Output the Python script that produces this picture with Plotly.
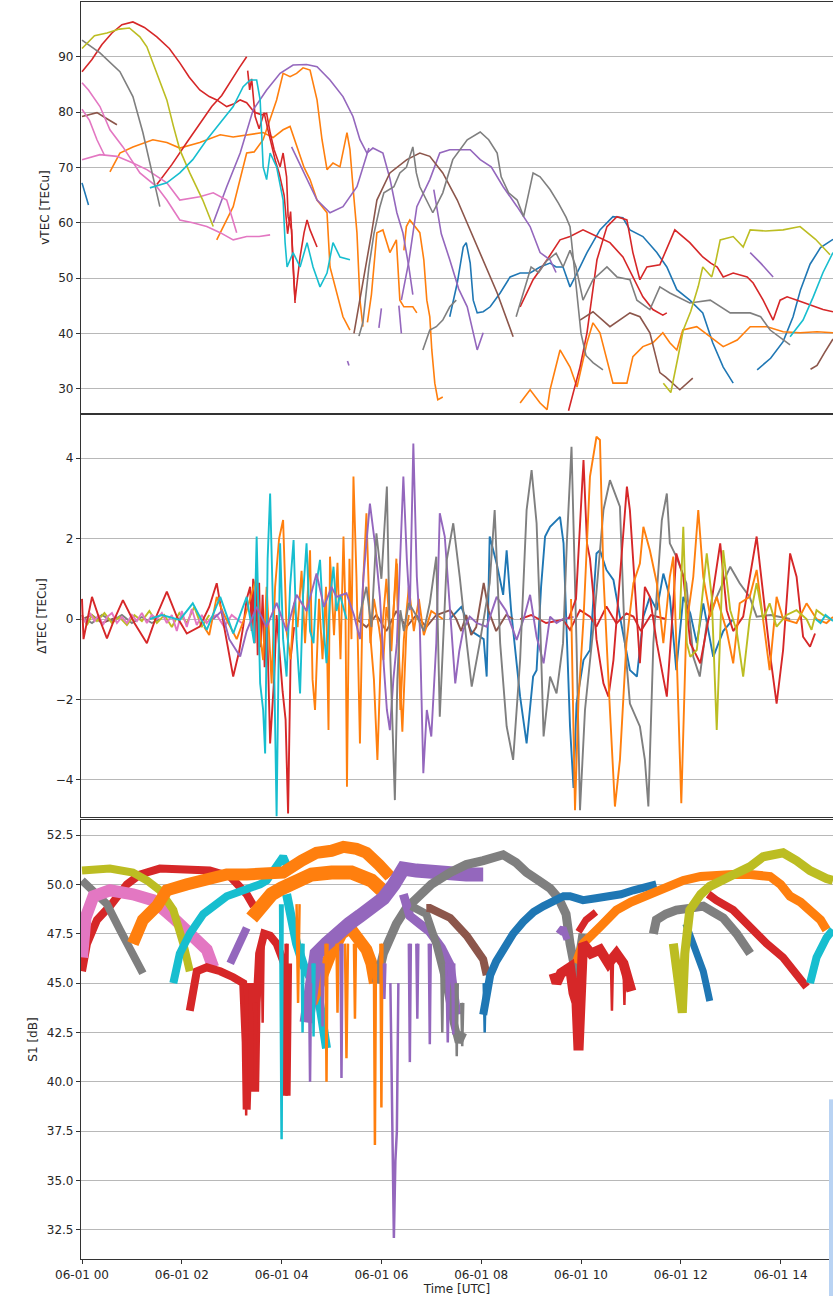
import pandas as pd
import plotly.graph_objects as go
from plotly.subplots import make_subplots

BASE = pd.Timestamp("2024-06-01 00:00")

C_BLUE, C_ORANGE, C_RED, C_PURPLE = "#1f77b4", "#ff7f0e", "#d62728", "#9467bd"
C_BROWN, C_PINK, C_GRAY, C_OLIVE, C_CYAN = "#8c564b", "#e377c2", "#7f7f7f", "#bcbd22", "#17becf"

# ---------------- vTEC [TECu]  (hour, value) ----------------
vt_olive_a = [(0,91.5),(0.25,93.8),(0.5,94.3),(0.75,95.0),(0.95,95.2),(1.16,93.6),(1.3,91.8),(1.42,88.9),(1.56,85.5),(1.7,82.2),(1.83,77.5),(1.96,73.2),(2.16,69.0),(2.3,66.5),(2.42,64.1),(2.63,59.3)]
vt_olive_b = [(11.65,31),(11.8,29.3),(11.95,36),(12.05,40.6),(12.2,44),(12.35,48.5),(12.44,52),(12.55,51),(12.62,50.2),(12.7,53),(12.79,56.9),(13.05,57.5),(13.25,55.6),(13.39,58.7),(13.7,58.5),(14.05,58.7),(14.39,59.3),(14.7,57),(14.99,54.2)]
vt_gray_a = [(0,93),(0.36,90.7),(0.76,87.3),(1.02,82.8),(1.22,76.3),(1.42,68.3),(1.56,62.9)]
vt_gray_b = [(5.55,39.5),(5.63,42),(5.75,52),(5.85,58),(5.97,62.9),(6.05,65.4),(6.25,66.5),(6.37,69),(6.5,70),(6.63,73.7),(6.7,69),(6.77,66.5),(7.03,61.8),(7.23,65.4),(7.43,71.4),(7.72,75),(7.98,76.4),(8.15,75),(8.32,72.6),(8.4,68.3),(8.55,65.4),(8.72,64.1),(8.85,61.1),(9.04,69),(9.18,68.3),(9.38,66),(9.55,63.5),(9.7,61),(9.78,59.3),(9.85,53),(9.92,46),(10.0,40),(10.1,36),(10.24,34.7),(10.44,33.4)]
vt_gray_c = [(6.83,37),(6.97,40.6),(7.1,41.2),(7.23,42.4),(7.37,44.8),(7.5,46)]
vt_gray_d = [(8.7,43),(8.85,47.3),(9.0,52),(9.15,51),(9.3,53),(9.5,54.5),(9.64,52),(9.78,55),(9.9,52),(10.04,46),(10.24,49.7),(10.52,52),(10.72,50.2),(10.98,49.7),(11.12,46),(11.38,44.3),(11.58,48.4),(11.78,47.3),(12.18,45.5),(12.59,46),(12.99,43.7),(13.39,43.7),(13.6,43),(13.79,40.6),(14.19,37.9)]
vt_pink_a = [(0,85.3),(0.13,84),(0.36,81),(0.56,76.8),(0.82,73.7),(1.16,69),(1.5,66.5),(1.7,64.1),(1.96,60.5),(2.22,60),(2.5,59.3),(2.77,58.2),(3.03,56.9),(3.3,57.5),(3.55,57.5),(3.77,57.8)]
vt_pink_b = [(0,71.4),(0.36,72.3),(0.7,72),(1.02,70.8),(1.3,69.6),(1.7,67.2),(1.96,64.1),(2.36,64.7),(2.63,65.4),(2.9,64.1),(3.1,58.2)]
vt_pink_c = [(0,80.5),(0.15,78.5),(0.3,75),(0.45,72.2)]
vt_brown_a = [(0,79.2),(0.3,79.9),(0.5,78.8),(0.7,77.7)]
vt_brown_b = [(5.45,40),(5.55,45),(5.65,50),(5.8,58),(5.91,64.1),(6.17,69),(6.51,71.4),(6.77,72.6),(6.97,72),(7.23,69),(7.52,64.1),(7.78,58.7),(8.04,53.3),(8.32,47.3),(8.64,39.4)]
vt_brown_c = [(9.98,42.4),(10.24,43.9),(10.58,41.2),(10.98,43.7),(11.18,43),(11.38,40.1),(11.58,32.9),(11.7,32.1),(11.98,29.8),(12.24,31.9)]
vt_brown_d = [(14.6,33.5),(14.73,34.2),(14.88,36.5),(15.05,39)]
vt_orange_a = [(0.56,69.2),(0.76,72.6),(1.02,73.7),(1.42,75),(1.7,74.5),(1.96,73.5),(2.36,74.5),(2.77,75.9),(3.03,75.5),(3.3,75.9),(3.63,76.3),(3.83,75.4),(4.03,76.8),(4.17,77.4),(4.3,74),(4.45,70),(4.57,67.8),(4.71,64.1),(4.85,62.5),(4.91,61.8),(4.97,52),(5.11,47.3),(5.23,43),(5.37,40.6)]
vt_orange_b = [(2.7,56.9),(3.03,62.9),(3.3,72.6),(3.45,72.8),(3.63,75),(3.9,82.2),(4.03,87),(4.17,86.4),(4.3,87),(4.43,88),(4.57,87.6),(4.71,82.2),(4.81,75),(4.91,69.6),(5.03,70.8),(5.17,70.1),(5.31,76.3),(5.37,73.2),(5.43,66.5),(5.51,58.2),(5.57,46),(5.63,41.2)]
vt_orange_c = [(5.72,42),(5.8,47),(5.91,58.2),(6.03,58.7),(6.17,54.6),(6.3,56.9),(6.37,46),(6.45,44.8),(6.63,44.8),(6.71,43.7)]
vt_orange_d = [(6.45,55),(6.5,59.3),(6.57,60.5),(6.77,58.2),(6.85,53.3),(6.91,46),(6.97,43),(7.01,37),(7.07,31),(7.13,28),(7.23,28.5)]
vt_orange_e = [(8.78,27.4),(8.98,29.8),(9.18,27.4),(9.32,26.2),(9.38,29.8),(9.58,37),(9.78,33.9),(9.92,30.3),(10.12,38.3),(10.24,41.9),(10.38,40.1),(10.52,35.2),(10.64,31),(10.92,31),(11.04,35.8),(11.24,37.6),(11.44,38.3),(11.64,40.1),(11.78,38.3),(11.92,37),(12.04,40.6),(12.32,41.2),(12.59,39.4),(12.85,37.6),(13.13,38.8),(13.39,41.2),(13.73,41.2),(14.05,40.3),(14.39,40.1),(14.73,40.3),(15.05,40.1)]
vt_cyan_a = [(1.36,66.3),(1.7,67.2),(1.96,69),(2.22,71.4),(2.5,75),(2.77,78),(3.03,81),(3.23,84.6),(3.37,85.8),(3.5,85.8),(3.57,82.2),(3.63,70.1),(3.7,67.8),(3.77,72.6),(3.9,70.1),(4.03,64.1),(4.07,56.4),(4.11,52),(4.23,54.6),(4.37,52),(4.51,56.4),(4.63,52),(4.77,48.4),(4.91,50.9),(5.03,56.4),(5.17,53.8),(5.37,53.3)]
vt_cyan_b = [(14.19,39.4),(14.45,42.4),(14.65,46.5),(14.85,51),(15.05,54.6)]
vt_purple_a = [(2.63,60),(2.9,66.5),(3.17,72.6),(3.43,80.4),(3.7,84),(3.97,87),(4.23,88.5),(4.5,88.6),(4.71,88.2),(4.97,85.8),(5.23,82.8),(5.43,79.2),(5.57,75),(5.71,72.6),(5.83,73.5),(6.03,72.6),(6.17,68),(6.31,61.8),(6.43,58.2),(6.55,52),(6.63,47)]
vt_purple_b = [(4.2,73.7),(4.45,69),(4.71,64.1),(4.97,61.8),(5.23,62.9),(5.51,66.5),(5.65,70.8),(5.75,73.5)]
vt_purple_c = [(6.4,46),(6.55,53),(6.71,62.9),(6.97,67.8),(7.17,72.6),(7.37,73.2),(7.78,73.2),(7.98,71.4),(8.2,70.1),(8.44,66.5),(8.72,62.9),(8.98,59.3),(9.18,54.6),(9.38,53.3),(9.5,51)]
vt_purple_d = [(7.05,66),(7.2,58),(7.37,53.3),(7.55,48),(7.72,44.8),(7.92,37),(8.04,40.1)]
vt_purple_e = [(13.39,54.6),(13.6,52.7),(13.85,50.2)]
vt_purple_f = [(5.32,35),(5.35,34.2),None,(5.95,41),(6.0,44.5),None,(6.35,45),(6.4,40)]
vt_blue_a = [(0,67.2),(0.13,63.2)]
vt_blue_b = [(7.37,43),(7.52,49.1),(7.64,55.6),(7.7,56.4),(7.78,52.7),(7.84,46),(7.92,43.7),(8.04,43.9),(8.18,44.8),(8.38,47.3),(8.58,50.2),(8.78,50.9),(8.98,50.9),(9.18,52),(9.38,52.7),(9.5,52),(9.64,52),(9.78,48.4),(9.92,50.9),(10.12,54.6),(10.38,58.7),(10.64,61.1),(10.84,60.9),(10.98,58.7),(11.24,57.5),(11.52,54.6),(11.72,52),(11.92,47.9),(12.18,46),(12.44,43.7),(12.64,38.3),(12.85,33.9),(13.05,31)]
vt_blue_c = [(13.53,33.4),(13.8,35.5),(14.05,38.5),(14.25,43),(14.4,47.9),(14.59,52.5),(14.8,55.5),(15.05,57)]
vt_red_a = [(0,87.3),(0.2,89.5),(0.4,92.2),(0.6,94.3),(0.8,95.8),(1.02,96.3),(1.25,95.3),(1.5,93.6),(1.75,91.5),(1.96,88.9),(2.15,86.3),(2.36,84),(2.55,82.8),(2.7,82.2),(2.9,81),(3.05,81.5),(3.17,82.2),(3.3,81.7),(3.45,80),(3.6,79.5),(3.7,79.8),(3.77,76.3),(3.85,73.2),(3.97,70.1),(4.03,72.6),(4.1,68.3),(4.13,61.1),(4.2,58.7),(4.23,52),(4.27,46),(4.3,48.4),(4.37,53.8),(4.45,58.2),(4.51,60.5),(4.57,58.7),(4.71,55.6)]
vt_red_b = [(1.5,66.9),(1.8,70.5),(2.1,74.5),(2.4,78.5),(2.6,81),(2.8,83),(3.0,86),(3.15,88),(3.3,90)]
vt_red_c = [(3.32,87.5),(3.36,84),(3.4,86),(3.47,79.2),(3.55,77),(3.65,79.9),(3.72,77),(3.8,74),(3.88,71),(3.95,69),(4.05,65),(4.12,58),(4.18,62),(4.22,55),(4.27,45.5)]
vt_red_d = [(8.78,44.8),(9.04,49.7),(9.32,53.3),(9.58,56.9),(9.78,57.5),(10.04,58.7),(10.32,57.5),(10.58,56.4),(10.84,53.8),(11.04,50.2),(11.24,46.6),(11.44,44.3),(11.64,43.3),(11.72,43.7)]
vt_red_e = [(9.75,26),(9.98,33.9),(10.12,40.1),(10.32,53.3),(10.52,59.3),(10.72,61.1),(10.92,60.5),(11.04,54.6),(11.18,49.7),(11.32,52),(11.58,52.4),(11.7,55),(11.88,58.7),(12.18,56.4),(12.44,53.8),(12.6,52.7),(12.73,52),(12.85,50.2),(13.05,50.9),(13.33,50.2),(13.45,49.1),(13.65,46),(13.85,42.4),(13.99,46),(14.13,46.6),(14.33,46),(14.59,45.2),(14.85,44.3),(15.05,43.9)]

# ---------------- dTEC [TECu] ----------------
dt_red_a = [(0,0.5),(0.03,-0.5),(0.2,0.55),(0.35,0.0),(0.5,-0.48),(0.65,0.0),(0.82,0.47),(1.05,-0.1),(1.3,-0.6),(1.5,0.1),(1.7,0.68),(1.9,0.06),(2.1,-0.36),(2.36,-0.19),(2.55,0.3),(2.7,0.89),(2.85,-0.2),(3.03,-1.43),(3.15,-0.8),(3.23,-0.19),(3.3,0.5),(3.37,0.8),(3.4,-0.3),(3.43,1.0),(3.46,-0.6),(3.49,1.2),(3.52,-0.9),(3.55,0.9),(3.58,-0.7),(3.62,0.6),(3.66,-1.2),(3.7,0.3),(3.77,-3.09),(3.85,-1.5),(3.9,0.1),(3.95,-0.8),(4.02,-1.8),(4.08,-2.5),(4.13,-4.83),(4.18,-1.0),(4.25,-0.2)]
dt_olive_a = [(0,0.1),(0.1,-0.15),(0.2,0.1),(0.3,-0.05),(0.45,0.15),(0.6,-0.1),(0.75,0.05),(0.9,-0.15),(1.05,0.1),(1.2,-0.05),(1.35,0.2),(1.5,-0.1),(1.65,0.1),(1.8,-0.2),(1.95,0.15),(2.1,-0.1),(2.25,0.3),(2.4,-0.2),(2.55,0.1)]
dt_pink_a = [(0,0.1),(0.08,-0.1),(0.16,0.15),(0.25,-0.05),(0.33,0.1),(0.42,-0.15),(0.5,0.05),(0.6,0.15),(0.7,-0.1),(0.8,0.05),(0.9,-0.1),(1.0,0.1),(1.1,-0.05),(1.2,0.15),(1.3,-0.1),(1.4,0.1),(1.5,0.0),(1.6,0.15),(1.7,-0.1),(1.8,0.1),(1.9,-0.3),(2.0,0.2),(2.1,-0.2),(2.2,0.25),(2.3,-0.15),(2.4,0.1),(2.5,-0.1),(2.6,0.05),(2.7,0.1),(2.85,-0.2),(3.0,0.1),(3.2,-0.1)]
dt_gray_a = [(0,0.05),(0.2,-0.1),(0.4,0.1),(0.6,-0.05),(0.8,0.1),(1.0,-0.1),(1.2,0.05),(1.4,-0.1),(1.56,0.0)]
dt_brown_a = [(0,0.0),(0.2,0.1),(0.4,-0.1),(0.7,0.05)]
dt_cyan_a = [(1.36,0.0),(1.6,0.1),(1.96,-0.02),(2.22,0.39),(2.5,-0.27),(2.77,0.55),(3.03,-0.36),(3.3,0.55),(3.45,-0.6),(3.5,2.05),(3.57,-1.6),(3.63,-2.26),(3.67,-3.34),(3.72,1.5),(3.77,3.12),(3.84,-0.36),(3.9,-4.9),(3.97,1.88),(4.03,-0.5),(4.1,-1.43),(4.17,0.8),(4.24,1.96),(4.3,-0.5),(4.37,-1.85),(4.43,0.6),(4.5,1.88),(4.57,-0.3),(4.64,-0.6),(4.7,0.9),(4.77,1.47),(4.84,-0.2),(4.9,-1.1),(4.97,0.5),(5.04,1.3),(5.1,0.2),(5.17,0.6),(5.3,0.0)]
dt_cyan_b = [(14.7,0.0),(14.8,-0.1),(14.9,0.1),(15.05,-0.05)]
dt_orange_a = [(2.45,-0.2),(2.55,-0.4),(2.7,0.55),(2.85,0.1),(2.97,-0.19),(3.1,-0.5),(3.25,0.0),(3.4,0.6),(3.5,1.05),(3.58,-0.5),(3.63,-1.02),(3.7,0.8),(3.8,-1.6),(3.87,0.8),(3.95,2.0),(4.03,2.46),(4.1,-0.3),(4.18,-1.0),(4.25,0.4),(4.32,-0.2),(4.4,1.2),(4.47,-0.6),(4.57,1.71),(4.62,-1.5),(4.67,-2.26),(4.75,0.5),(4.82,-1.0),(4.89,0.8),(4.94,-2.76),(4.97,1.55),(5.05,-0.4),(5.12,1.4),(5.18,-1.0),(5.24,2.05),(5.28,0.2),(5.31,-4.17),(5.36,1.5),(5.4,-0.5),(5.44,3.54),(5.5,1.05),(5.57,-3.09),(5.63,0.8),(5.7,2.63),(5.78,-0.6),(5.85,0.5),(5.95,-0.2),(6.04,-1.02),(6.1,0.3),(6.2,-0.5),(6.31,1.38),(6.36,-1.2),(6.42,-2.8),(6.5,-0.3),(6.55,0.1)]
dt_orange_c = [(5.75,0.0),(5.85,-1.5),(5.92,-3.5),(6.0,-0.5),(6.1,1.0),(6.2,-0.8),(6.3,1.5),(6.38,-2.26),(6.45,-0.5),(6.55,0.8),(6.65,-0.3),(6.75,0.5),(6.85,-0.4),(7.0,0.2),(7.23,0.0)]
dt_orange_b = [(9.8,0.5),(9.85,-3.09),(9.88,-4.75),(9.95,-2.0),(10.05,0.0),(10.18,3.54),(10.31,4.53),(10.38,4.45),(10.45,1.05),(10.58,-2.26),(10.68,-4.66),(10.78,-3.5),(10.91,-0.6),(11.05,0.89),(11.18,1.38),(11.25,2.29),(11.38,1.71),(11.52,0.89),(11.65,-0.6),(11.78,1.05),(11.85,1.55),(11.91,-0.6),(12.01,-4.58),(12.11,-0.19),(12.25,1.05),(12.35,2.71),(12.45,1.05),(12.59,0.06),(12.72,0.55),(12.92,-0.3),(13.05,-1.1),(13.18,0.39),(13.38,0.55),(13.52,1.22),(13.65,0.0),(13.78,-1.27),(13.92,0.55),(14.05,0.0),(14.32,-0.1),(14.52,0.39),(14.72,0.0),(14.92,-0.1),(15.05,0.05)]
dt_purple = [(2.63,0.0),(2.8,0.2),(2.95,-0.5),(3.17,-0.93),(3.3,-0.3),(3.5,0.3),(3.7,-0.2),(3.9,0.4),(4.1,-0.3),(4.3,0.6),(4.5,0.2),(4.7,1.13),(4.85,0.3),(5.0,0.8),(5.1,0.55),(5.3,0.64),(5.45,0.1),(5.57,-0.5),(5.64,1.05),(5.77,2.87),(5.87,1.88),(5.97,0.55),(6.05,-1.2),(6.11,-2.26),(6.17,-2.76),(6.24,-1.5),(6.31,-0.6),(6.38,1.5),(6.44,3.54),(6.51,1.47),(6.57,0.22),(6.64,4.36),(6.71,1.05),(6.77,-0.19),(6.84,-3.83),(6.91,-2.26),(7.0,-2.92),(7.1,-0.6),(7.17,2.63),(7.27,2.05),(7.38,0.22),(7.48,-1.6),(7.56,-0.8),(7.64,-0.27),(7.77,0.06),(7.91,-0.1),(8.11,-0.19),(8.31,0.55),(8.5,0.2),(8.71,-0.52),(8.85,0.0),(8.98,0.6),(9.11,-0.44),(9.25,-1.1),(9.38,0.06),(9.51,-0.1),(9.64,0.0),(9.85,0.05)]
dt_gray_b = [(5.55,0.0),(5.7,0.8),(5.8,-0.2),(5.9,2.13),(6.0,1.0),(6.11,3.29),(6.17,-0.6),(6.22,-2.5),(6.27,-4.5),(6.32,-1.5),(6.38,0.22),(6.45,-0.3),(6.55,0.4),(6.71,0.06),(6.85,-0.3),(6.97,0.39),(7.1,1.55),(7.17,-2.43),(7.24,-0.5),(7.31,1.47),(7.44,2.38),(7.57,1.05),(7.71,-0.6),(7.81,-1.68),(7.97,-0.6),(8.17,0.89),(8.27,2.71),(8.38,-0.6),(8.51,-2.67),(8.64,-3.5),(8.78,-1.02),(8.91,2.71),(9.01,3.7),(9.11,2.38),(9.18,0.0),(9.25,-2.92),(9.38,-1.43),(9.51,-1.85),(9.64,-0.6),(9.72,2.0),(9.81,4.28),(9.91,-0.6),(9.98,-4.75),(10.08,-2.26),(10.25,-0.19),(10.45,2.71),(10.58,3.45),(10.78,2.79),(10.88,-0.6),(10.98,-2.1),(11.18,-2.67),(11.28,-3.5),(11.35,-4.66),(11.45,-0.6),(11.62,2.46),(11.72,3.12),(11.78,1.88),(11.91,1.55),(12.11,0.89),(12.25,-0.94),(12.38,-1.43),(12.52,-0.11),(12.72,0.55),(12.99,1.3),(13.18,0.89),(13.38,0.55),(13.52,0.06),(13.8,0.1),(14.19,0.0)]
dt_blue_b = [(7.37,0.0),(7.6,0.3),(7.8,-0.3),(8.05,-0.5),(8.11,-1.43),(8.17,2.05),(8.31,1.38),(8.44,0.6),(8.51,1.71),(8.6,0.2),(8.78,-1.93),(8.91,-3.09),(9.04,-1.43),(9.11,-1.27),(9.2,0.8),(9.28,2.05),(9.38,2.29),(9.58,2.54),(9.65,1.88),(9.72,-0.5),(9.78,-2.67),(9.85,-4.2),(9.91,-2.1),(10.05,-1.02),(10.18,-0.77),(10.31,1.63),(10.38,1.71),(10.51,1.22),(10.65,0.97),(10.78,0.06),(10.98,-1.27),(11.12,-1.43),(11.25,0.06),(11.38,0.55),(11.52,0.22),(11.65,1.13),(11.78,0.55),(11.91,-1.27),(12.05,0.55),(12.19,0.14),(12.32,-0.6),(12.45,0.39),(12.65,-0.94),(12.85,-0.3),(13.05,0.0)]
dt_red_b = [(8.78,0.0),(9.0,0.1),(9.3,-0.1),(9.64,-0.02),(9.78,-0.27),(9.98,0.22),(10.18,0.06),(10.31,-0.19),(10.51,0.31),(10.71,-0.11),(10.91,0.14),(11.05,0.06),(11.2,-0.3),(11.4,0.1),(11.7,0.0)]
dt_red_c = [(9.75,0.0),(9.9,0.5),(10.05,3.95),(10.12,1.88),(10.18,1.5),(10.25,0.55),(10.31,-0.5),(10.45,-1.6),(10.55,-1.93),(10.65,-1.02),(10.78,1.05),(10.92,3.29),(10.98,2.7),(11.12,0.06),(11.18,-1.1),(11.28,0.8),(11.38,0.55),(11.52,-0.6),(11.65,-1.43),(11.72,-1.93),(11.85,0.39),(11.91,1.63),(12.05,1.05),(12.19,-0.6),(12.39,-1.1),(12.59,0.22),(12.79,1.88),(12.92,0.22),(13.05,-0.3),(13.25,0.06),(13.52,2.05),(13.65,0.64),(13.78,-0.8),(13.92,-2.1),(14.05,-0.77),(14.19,1.63),(14.32,1.05),(14.45,-0.44),(14.59,-0.69),(14.69,-0.36)]
dt_olive_b = [(11.98,0.0),(12.05,2.29),(12.12,-0.6),(12.19,-0.94),(12.32,-0.77),(12.52,1.63),(12.62,0.55),(12.72,-2.76),(12.85,1.71),(12.99,0.22),(13.12,-0.3),(13.25,-1.43),(13.38,0.0),(13.52,0.89),(13.65,0.0),(13.78,0.39),(13.92,-0.19),(14.12,0.1),(14.32,0.22),(14.52,0.0),(14.62,-0.27),(14.72,0.22),(14.85,0.1),(15.0,0.0)]
dt_brown_b = [(5.5,0.0),(5.7,-0.2),(5.9,0.1),(6.1,-0.3),(6.3,0.2),(6.5,-0.2),(6.7,0.1),(6.9,-0.2),(7.1,0.1),(7.38,0.22),(7.5,0.0),(7.6,-0.3),(7.7,0.1),(7.8,-0.4),(7.9,-0.2),(8.0,0.5),(8.05,0.9),(8.15,0.2),(8.3,-0.3),(8.5,0.1),(8.64,0.0)]

# ---------------- S1 [dB] ----------------
s1_pink = [(0,46.3),(0.07,48.3),(0.23,49.4),(0.56,49.7),(1.02,49.5),(1.42,49.2),(1.83,48.3),(2.23,47.3),(2.5,46.7),(2.63,45.8)]
s1_gray_a = [(0,50.2),(0.23,49.7),(0.5,49.0),(0.76,47.7),(1.02,46.5),(1.22,45.5)]
s1_olive_a = [(0,50.7),(0.56,50.8),(1.02,50.6),(1.3,50.2),(1.56,49.7),(1.83,48.7),(2.03,47.0),(2.16,45.6)]
s1_red_a = [(0,45.6),(0.1,47),(0.3,48.2),(0.56,48.9),(0.9,50),(1.16,50.5),(1.56,50.8),(2.1,50.8),(2.56,50.7),(2.97,50.4),(3.3,49.5),(3.44,48.9)]
s1_red_b = [(2.16,43.6),(2.3,45.6),(2.5,45.8),(2.77,45.6),(3.03,45.3),(3.23,45.0),(3.28,42),(3.3,38.6),(3.33,41),(3.37,45),(3.42,43.6),(3.47,39.5),(3.5,44),(3.55,46.5),(3.65,47.5),(3.77,47.4),(3.9,47),(4.05,46),(4.1,39.3),(4.13,46)]
s1_cyan_a = [(1.83,45.0),(1.96,46.5),(2.16,47.5),(2.43,48.5),(2.9,49.4),(3.3,49.7),(3.57,50.0),(3.7,50.2),(3.9,51.0),(4.03,51.4),(4.1,51.0)]
s1_cyan_b = [(4.1,49.5),(4.17,48.4),(4.3,47),(4.44,45.9),(4.57,45.3),(4.7,45),(4.8,43.5),(4.9,41.7)]
s1_cyan_c = [(14.59,45),(14.72,46.3),(14.92,47.3),(15.05,47.7)]
s1_orange_a = [(1.02,47),(1.22,48.2),(1.5,48.9),(1.7,49.7),(2.1,50.0),(2.5,50.3),(2.9,50.5),(3.3,50.5),(3.7,50.5),(4.03,50.6),(4.4,51.2),(4.7,51.6),(5.0,51.7),(5.24,51.9),(5.5,51.8),(5.7,51.6),(5.95,51.0),(6.17,50.4)]
s1_orange_b = [(3.4,48.3),(3.6,49),(3.8,49.5),(4.0,49.8),(4.3,50.2),(4.6,50.5),(5.0,50.6),(5.4,50.6),(5.8,50.2),(6.1,49.5)]
s1_orange_c = [(4.6,44),(4.8,45.5),(4.97,46.4),(5.1,47),(5.2,47.5),(5.37,47.8),(5.5,47.3),(5.7,46.7),(5.8,46),(5.87,45)]
s1_orange_d = [(9.9,46),(10.04,47),(10.4,47.9),(10.71,48.7),(11.0,49.1),(11.38,49.5),(11.7,49.9),(12.05,50.2),(12.4,50.4),(12.71,50.5),(13.05,50.5),(13.39,50.5),(13.79,50.4),(14.0,50.0),(14.19,49.4),(14.4,49.1),(14.59,48.7),(14.8,48.2),(14.92,47.7)]
s1_purple_a = [(2.97,46.0),(3.17,47.0),(3.3,47.8)]
s1_purple_b = [(4.5,43.0),(4.6,45),(4.7,46.5),(4.9,47.0),(5.1,47.5),(5.35,48.0),(5.57,48.4),(5.8,48.8),(6.04,49.3),(6.25,50.0),(6.44,50.8),(6.7,50.7),(6.97,50.6),(7.38,50.5),(7.7,50.5),(8.04,50.5)]
s1_purple_c = [(6.44,49.5),(6.57,48.4),(6.77,48.0),(6.97,47.6),(7.2,46.8),(7.38,45.9),(7.45,44.5),(7.51,43.4)]
s1_purple_d = [(9.55,47.5),(9.64,47.8),(9.72,47.2)]
s1_gray_b = [(5.9,45),(6.04,46.5),(6.3,48),(6.5,48.8),(6.71,49.3),(7.0,50.0),(7.38,50.6),(7.7,51.0),(8.04,51.2),(8.44,51.5),(8.7,51.1),(8.91,50.6),(9.15,50.2),(9.38,49.8),(9.55,49.3),(9.7,48.5),(9.78,47),(9.85,46),(9.91,45.3),(9.98,46.5),(10.04,47.5)]
s1_gray_c = [(6.6,48.9),(6.9,48.5),(7.1,47),(7.3,45),(7.45,43),(7.55,42),(7.64,42.5)]
s1_gray_d = [(11.45,47.5),(11.51,48.2),(11.7,48.5),(11.91,48.7),(12.2,48.8),(12.45,48.9),(12.65,48.6),(12.85,48.3),(13.12,47.5),(13.3,46.8),(13.39,46.5)]
s1_brown = [(6.9,48.8),(6.97,48.8),(7.38,48.3),(7.71,47.4),(8.04,46.2),(8.11,45.4)]
s1_blue_a = [(8.04,43.4),(8.1,44.5),(8.18,45.4),(8.3,46.1),(8.44,46.7),(8.64,47.5),(8.84,48.1),(9.05,48.6),(9.25,48.9),(9.45,49.2),(9.65,49.4),(9.78,49.4),(10.04,49.2),(10.3,49.3),(10.58,49.4),(10.8,49.5),(11.05,49.7),(11.3,49.9),(11.51,50.0)]
s1_blue_b = [(12.1,48),(12.25,47),(12.35,46.3),(12.45,45.6),(12.52,44.8),(12.58,44.1)]
s1_red_c = [(9.45,45.5),(9.51,45),(9.6,45.5),(9.78,45.8),(9.85,44.5),(9.91,44),(9.95,41.6),(9.98,44),(10.04,47),(10.2,46.5),(10.38,46.7),(10.55,46),(10.71,46.5),(10.85,46),(10.91,45.6),(11.01,44.6)]
s1_red_e = [(9.95,47.6),(10.1,48.2),(10.3,48.6)]
s1_red_d = [(12.55,49.5),(12.71,49.2),(13.05,48.7),(13.39,47.8),(13.72,47.0),(14.05,46.3),(14.32,45.5),(14.52,44.8)]
s1_olive_b = [(11.85,47),(11.92,45.5),(11.98,44.5),(12.03,43.5),(12.08,46.5),(12.18,48.7),(12.4,49.5),(12.58,49.9),(12.98,50.4),(13.39,50.9),(13.65,51.4),(14.05,51.6),(14.32,51.2),(14.59,50.7),(14.92,50.3),(15.05,50.2)]
# deep fades (thin spikes)
s1_red_dips = [(3.27,45),(3.29,38.3),(3.31,45),None,(3.45,44),(3.47,40.1),(3.49,44),None,(4.08,47),(4.1,39.3),(4.12,47),None,(3.6,47),(3.62,43),(3.64,47),None,(10.6,46),(10.62,43.6),(10.64,46),None,(10.85,46),(10.87,43.9),(10.89,46)]
s1_cyan_dips = [(3.97,49),(4.0,37.1),(4.02,49),None,(4.4,47),(4.42,42.5),(4.44,47),None,(4.62,46),(4.64,42.3),(4.66,46)]
s1_orange_dips = [(4.88,47),(4.9,40),(4.92,47),None,(5.27,47),(5.3,41.2),(5.33,47),None,(5.85,46),(5.87,36.8),(5.89,46),None,(5.98,47),(6.0,38.7),(6.02,47),None,(4.3,49),(4.33,44),(4.36,49),None,(5.1,47),(5.12,43.5),(5.14,47),None,(5.45,47),(5.47,43.2),(5.49,47)]
s1_purple_dips = [(4.55,45),(4.57,40),(4.59,45),None,(5.18,47),(5.2,40.2),(5.22,47),None,(6.18,45),(6.22,37.5),(6.25,32.1),(6.28,36),(6.31,37.5),(6.34,45),None,(6.7,47),(6.72,43.2),(6.74,47),None,(7.3,46),(7.33,42),(7.36,46),None,(6.05,46),(6.06,44.2),(6.08,46),None,(6.55,47),(6.57,41),(6.59,47),None,(6.95,47),(6.97,41.9),(6.99,47),None,(7.42,46),(7.44,42.4),(7.46,46),None,(4.8,46),(4.82,42.8),(4.84,46)]
s1_gray_dips = [(7.6,44),(7.62,41.8),(7.64,44),None,(7.2,46),(7.22,42.5),(7.24,46),None,(7.49,45),(7.51,41.3),(7.53,45)]
s1_blue_dips = [(8.05,45),(8.07,42.5),(8.09,45)]

TOP = [
    (C_BLUE, vt_blue_a), (C_BLUE, vt_blue_b), (C_BLUE, vt_blue_c),
    (C_ORANGE, vt_orange_a), (C_ORANGE, vt_orange_b), (C_ORANGE, vt_orange_c), (C_ORANGE, vt_orange_d), (C_ORANGE, vt_orange_e),
    (C_RED, vt_red_a), (C_RED, vt_red_b), (C_RED, vt_red_c), (C_RED, vt_red_d), (C_RED, vt_red_e),
    (C_PURPLE, vt_purple_a), (C_PURPLE, vt_purple_b), (C_PURPLE, vt_purple_c), (C_PURPLE, vt_purple_d), (C_PURPLE, vt_purple_e), (C_PURPLE, vt_purple_f),
    (C_BROWN, vt_brown_a), (C_BROWN, vt_brown_b), (C_BROWN, vt_brown_c), (C_BROWN, vt_brown_d),
    (C_PINK, vt_pink_a), (C_PINK, vt_pink_b), (C_PINK, vt_pink_c),
    (C_GRAY, vt_gray_a), (C_GRAY, vt_gray_b), (C_GRAY, vt_gray_c), (C_GRAY, vt_gray_d),
    (C_OLIVE, vt_olive_a), (C_OLIVE, vt_olive_b),
    (C_CYAN, vt_cyan_a), (C_CYAN, vt_cyan_b),
]
MID = [
    (C_BLUE, dt_blue_b), (C_BROWN, dt_brown_a), (C_BROWN, dt_brown_b),
    (C_GRAY, dt_gray_a), (C_OLIVE, dt_olive_a), (C_PINK, dt_pink_a),
    (C_RED, dt_red_a), (C_RED, dt_red_b),
    (C_ORANGE, dt_orange_a), (C_ORANGE, dt_orange_c),
    (C_CYAN, dt_cyan_a), (C_PURPLE, dt_purple), (C_GRAY, dt_gray_b),
    (C_RED, dt_red_c), (C_ORANGE, dt_orange_b), (C_OLIVE, dt_olive_b), (C_CYAN, dt_cyan_b),
]
BOT = [
    (C_RED, 8, s1_red_a), (C_GRAY, 8, s1_gray_a), (C_PINK, 12, s1_pink), (C_OLIVE, 8, s1_olive_a),
    (C_ORANGE, 8, s1_orange_a), (C_RED, 8, s1_red_b), (C_CYAN, 8, s1_cyan_a), (C_PURPLE, 8, s1_purple_a),
    (C_CYAN, 9, s1_cyan_b), (C_ORANGE, 14, s1_orange_b), (C_ORANGE, 12, s1_orange_a), (C_ORANGE, 12, s1_orange_c),
    (C_PURPLE, 14, s1_purple_b), (C_GRAY, 9, s1_gray_b), (C_PURPLE, 9, s1_purple_c), (C_GRAY, 8, s1_gray_c),
    (C_BROWN, 8, s1_brown), (C_BLUE, 8, s1_blue_a), (C_PURPLE, 7, s1_purple_d),
    (C_RED, 7, s1_red_e), (C_ORANGE, 9, s1_orange_d), (C_RED, 10, s1_red_c), (C_GRAY, 9, s1_gray_d),
    (C_BLUE, 7, s1_blue_b), (C_OLIVE, 9, s1_olive_b), (C_RED, 8, s1_red_d), (C_CYAN, 8, s1_cyan_c),
    (C_RED, 2.5, s1_red_dips), (C_CYAN, 2.5, s1_cyan_dips), (C_ORANGE, 2.5, s1_orange_dips),
    (C_PURPLE, 2.5, s1_purple_dips), (C_GRAY, 2.5, s1_gray_dips), (C_BLUE, 2.5, s1_blue_dips),
]


def to_xy(series):
    xs, ys = [], []
    for p in series:
        if p is None:
            xs.append(None); ys.append(None)
        else:
            xs.append(BASE + pd.Timedelta(hours=p[0])); ys.append(p[1])
    return xs, ys


fig = make_subplots(rows=3, cols=1, shared_xaxes=True)

for col, s in TOP:
    x, y = to_xy(s)
    fig.add_trace(go.Scatter(x=x, y=y, mode="lines", line=dict(color=col, width=1.6)), row=1, col=1)
for col, s in MID:
    x, y = to_xy(s)
    fig.add_trace(go.Scatter(x=x, y=y, mode="lines", line=dict(color=col, width=1.9)), row=2, col=1)
for col, w, s in BOT:
    x, y = to_xy(s)
    fig.add_trace(go.Scatter(x=x, y=y, mode="lines", line=dict(color=col, width=w)), row=3, col=1)

FONT = dict(family="DejaVu Sans", size=12, color="#262626")
xr = [BASE - pd.Timedelta(hours=0.02), BASE + pd.Timedelta(hours=15.05)]
xcommon = dict(type="date", range=xr, showline=True, mirror=True, linecolor="#333333", linewidth=1.2,
               showgrid=False, zeroline=False, automargin=False, tickfont=FONT)
fig.update_xaxes(**xcommon)
fig.update_xaxes(showticklabels=False, ticks="", row=1, col=1)
fig.update_xaxes(showticklabels=False, ticks="", row=2, col=1)
fig.update_xaxes(ticks="outside", ticklen=4, tickcolor="#333333", tickformat="%m-%d %H",
                 dtick=7200000, tick0=BASE, title=dict(text="Time [UTC]", font=FONT, standoff=4), row=3, col=1)

ycommon = dict(showline=True, mirror=False, linecolor="#333333", linewidth=1.2, showgrid=True,
               gridcolor="#b8b8b8", gridwidth=1, zeroline=False, ticks="outside", ticklen=4,
               tickcolor="#333333", tickfont=FONT, automargin=False)
fig.update_yaxes(**ycommon)
fig.update_yaxes(range=[25.6, 99.9], tickvals=[30, 40, 50, 60, 70, 80, 90], domain=[0.67303, 1.0],
                 title=dict(text="vTEC [TECu]", font=FONT, standoff=6), row=1, col=1)
fig.update_yaxes(range=[-4.92, 5.07], tickvals=[-4, -2, 0, 2, 4], domain=[0.35163, 0.67144],
                 title=dict(text="ΔTEC [TECu]", font=FONT, standoff=6), row=2, col=1)
fig.update_yaxes(range=[31.03, 53.26], tickvals=[32.5, 35, 37.5, 40, 42.5, 45, 47.5, 50, 52.5], tickformat=".1f",
                 domain=[0.0, 0.34924], title=dict(text="S1 [dB]", font=FONT, standoff=6), row=3, col=1)

fig.update_layout(
    width=833, height=1296, showlegend=False,
    margin=dict(l=81, r=0, t=2, b=37),
    paper_bgcolor="white", plot_bgcolor="white",
    font=FONT,
    shapes=[dict(type="rect", xref="paper", yref="paper", x0=0.9947, x1=1.0, y0=-0.03, y1=0.127,
                 fillcolor="#b9d3f3", line=dict(width=0), layer="above")],
)

fig.write_html("out.html")
